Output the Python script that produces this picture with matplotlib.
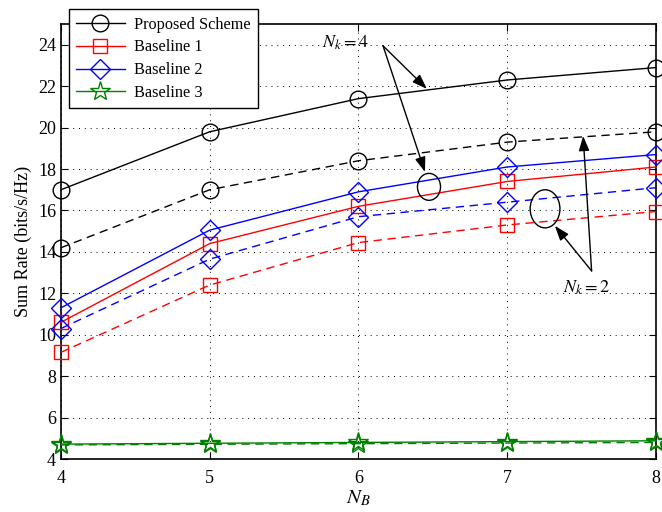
import numpy as np
import matplotlib.pyplot as plt
from matplotlib.patches import Ellipse

plt.rcParams['font.family'] = ['Liberation Serif', 'DejaVu Serif']
plt.rcParams['mathtext.fontset'] = 'stix'

# Number of BS antennas
n_b = [4, 5, 6, 7, 8]

# Sum rate (bits/s/Hz), Nk = 4 (solid) and Nk = 2 (dashed)
proposed_nk4 = [17.0, 19.8, 21.4, 22.3, 22.9]
proposed_nk2 = [14.2, 17.0, 18.4, 19.3, 19.8]
base1_nk4 = [10.6, 14.4, 16.2, 17.4, 18.1]
base1_nk2 = [9.15, 12.4, 14.45, 15.3, 15.95]
base2_nk4 = [11.3, 15.05, 16.9, 18.1, 18.7]
base2_nk2 = [10.3, 13.65, 15.7, 16.4, 17.1]
base3_nk4 = [4.72, 4.76, 4.80, 4.84, 4.88]
base3_nk2 = [4.68, 4.71, 4.74, 4.77, 4.80]

fig = plt.figure(figsize=(6.62, 5.12), dpi=100)
ax = fig.add_axes([0.092, 0.1035, 0.899, 0.8495])

green = (0, 0.5, 0)
styles = [
    ('Proposed Scheme', proposed_nk4, proposed_nk2, 'k', 'o', 12),
    ('Baseline 1', base1_nk4, base1_nk2, 'r', 's', 10),
    ('Baseline 2', base2_nk4, base2_nk2, 'b', 'D', 10),
    ('Baseline 3', base3_nk4, base3_nk2, green, '*', 15),
]
for name, s4, s2, c, m, ms in styles:
    ax.plot(n_b, s4, '-', color=c, marker=m, ms=ms, mfc='none', mec=c,
            lw=1, mew=1, label=name, clip_on=False, zorder=3)
    ax.plot(n_b, s2, '--', color=c, marker=m, ms=ms, mfc='none', mec=c,
            lw=1, mew=1, dashes=(6, 4), clip_on=False, zorder=3)

ax.set_xlim(4, 8)
ax.set_ylim(4, 25)
ax.set_xticks(n_b)
ax.set_yticks(np.arange(4, 25, 2))
ax.tick_params(direction='in', top=True, right=True, labelsize=13,
               length=5, width=0.8)
ax.tick_params(axis='x', pad=8)
ax.grid(True, color='k', linestyle=(0, (1, 5)), linewidth=0.7)
for sp in ax.spines.values():
    sp.set_linewidth(1.2)

ax.set_xlabel(r'$N_B$', fontsize=15, labelpad=1)
ax.set_ylabel('Sum Rate (bits/s/Hz)', fontsize=13, labelpad=4)

leg = ax.legend(loc='upper left', bbox_to_anchor=(0.013, 1.034), fontsize=11.7,
                handlelength=3.0, fancybox=False, framealpha=1,
                edgecolor='k', borderpad=0.45, labelspacing=0.42,
                handletextpad=0.6, borderaxespad=0)
leg.get_frame().set_linewidth(1.0)
leg.set_zorder(5)

arrow = dict(arrowstyle='-|>,head_length=0.9,head_width=0.32', color='k',
             lw=1, shrinkA=0, shrinkB=0)

# Nk = 4 annotation
ax.text(5.91, 24.1, r'$N_k = 4$', fontsize=13, ha='center', va='center')
ax.annotate('', xy=(6.46, 21.87), xytext=(6.165, 23.95), arrowprops=arrow)
ax.annotate('', xy=(6.447, 17.86), xytext=(6.165, 23.95), arrowprops=arrow)
ax.add_patch(Ellipse((6.474, 17.14), 0.155, 1.3, fill=False, ec='k', lw=1, zorder=4))

# Nk = 2 annotation
ax.text(7.53, 12.25, r'$N_k = 2$', fontsize=13, ha='center', va='center')
ax.annotate('', xy=(7.32, 15.26), xytext=(7.567, 13.08), arrowprops=arrow)
ax.annotate('', xy=(7.51, 19.6), xytext=(7.567, 13.08), arrowprops=arrow)
ax.add_patch(Ellipse((7.254, 16.08), 0.2, 1.84, fill=False, ec='k', lw=1, zorder=4))

fig.savefig('out.png', dpi=100)
